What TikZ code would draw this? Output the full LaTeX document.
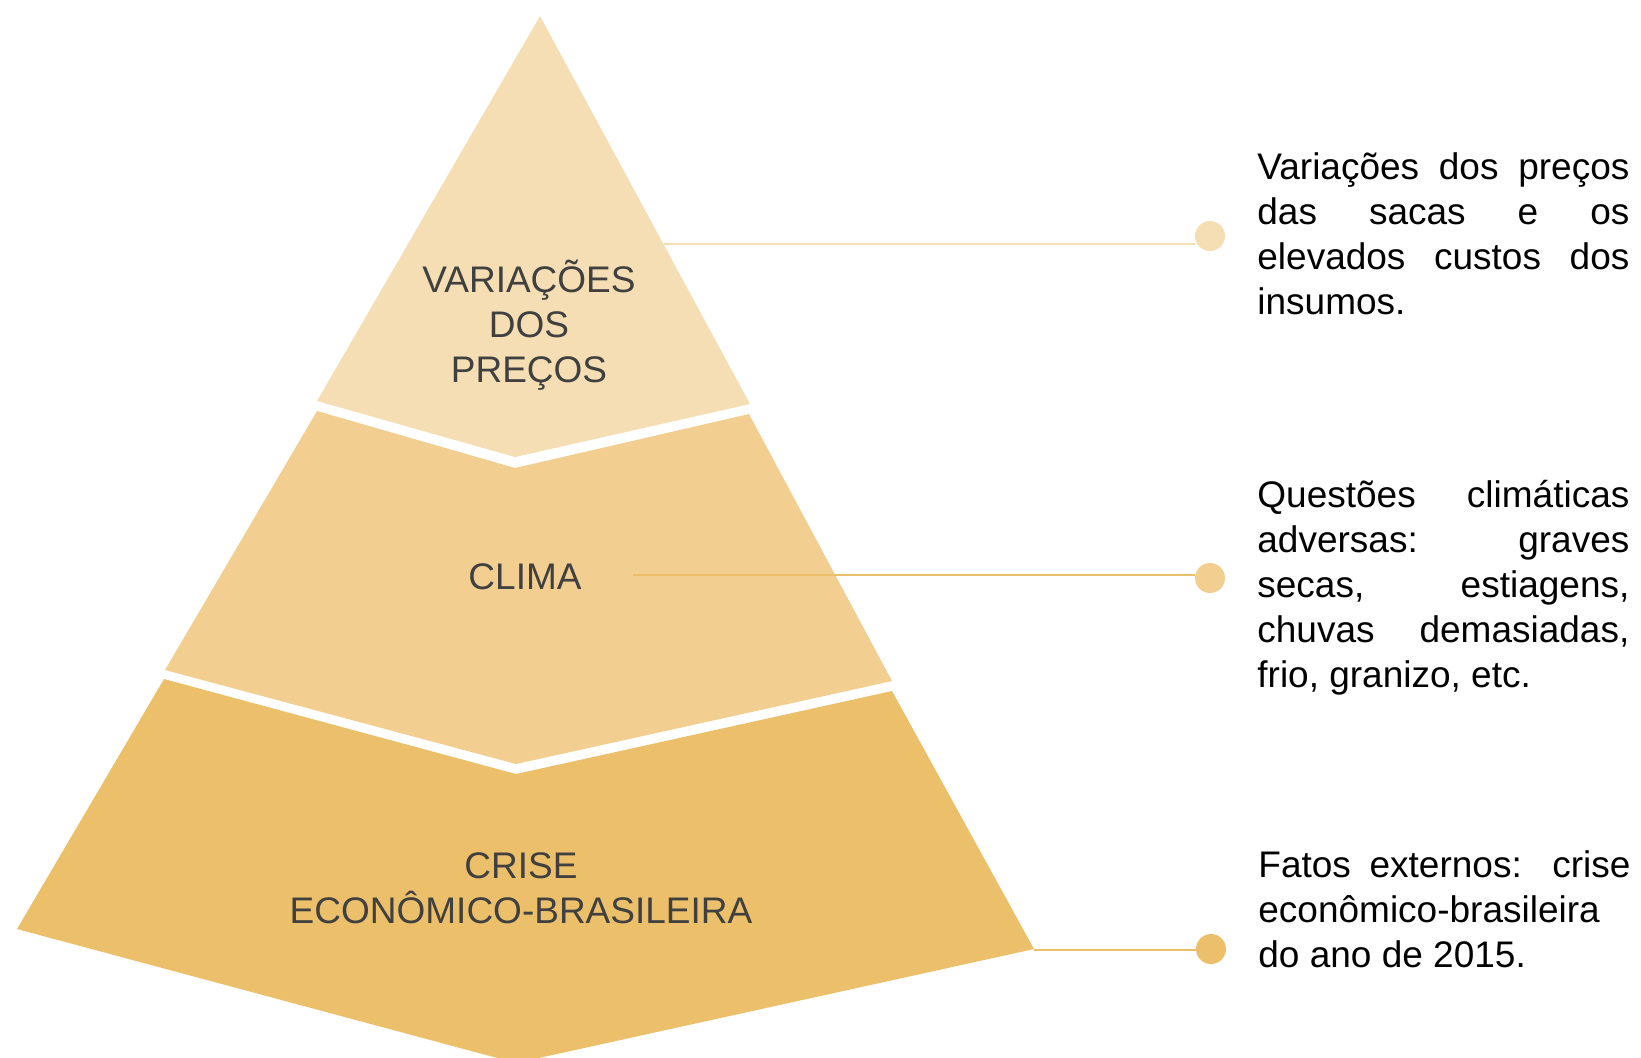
\documentclass[tikz,border=0pt]{standalone}
\usepackage{fontspec}
\setmainfont{Liberation Sans}
\usepackage{tikz}
\definecolor{topband}{HTML}{F5DEB3}
\definecolor{midband}{HTML}{F2CF91}
\definecolor{lowband}{HTML}{ECBF6B}
\definecolor{labelgray}{HTML}{404040}
\hyphenpenalty=10000
\tolerance=10000

\begin{document}
\begin{tikzpicture}[x=0.5pt,y=-0.5pt,
  level/.style={font=\fontsize{18.5}{22.5}\selectfont,text=labelgray,align=center,text width=260pt,anchor=base,inner sep=0pt},
  note/.style={font=\fontsize{18.5}{22.5}\selectfont,align=justify,text width=186pt,anchor=base west,inner sep=0pt},
  dot/.style={circle,inner sep=0pt,minimum size=15pt},
  leader/.style={line width=0.9pt}]
\useasboundingbox (0,0) rectangle (1641,1057);
\clip (0,0) rectangle (1641,1057);
% bands of the pyramid
\fill[topband](540,16)--(750,404)--(515,457)--(317,401)--cycle;
\fill[midband](317,411)--(515,468)--(749,414)--(892,681)--(516,764)--(165,670)--cycle;
\fill[lowband](164,679)--(516,774)--(892,691)--(1034,949)--(516,1063)--(17,929)--cycle;

\node[level] (precos) at (529,292) {VARIAÇÕES\\DOS\\PREÇOS};
\node[level] (clima) at (525,589) {CLIMA};
\node[level] (crise) at (521,878) {CRISE\\ECONÔMICO-BRASILEIRA};

\coordinate (a1) at (664,244);
\coordinate (a2) at (633,575);
\coordinate (a3) at (1034,950);
\node[dot,fill=topband] (d1) at (1210,236) {};
\node[dot,fill=midband] (d2) at (1210,578) {};
\node[dot,fill=lowband] (d3) at (1211,949) {};
\draw[leader,topband] (a1)--(a1 -| d1.west);
\draw[leader,lowband] (a2)--(a2 -| d2.west);
\draw[leader,lowband] (a3)--(a3 -| d3.west);

\node[note] (t1) at (1257,179) {Variações dos preços\linebreak das sacas e os\linebreak elevados custos dos\linebreak insumos.};
\node[note] (t2) at (1257,507) {Questões climáticas\linebreak adversas: graves\linebreak secas, estiagens,\linebreak chuvas demasiadas,\linebreak frio, granizo, etc.};
\node[note] (t3) at (1258,877) {Fatos externos: crise\linebreak econômico-brasileira\linebreak do ano de 2015.};
\end{tikzpicture}
\end{document}
